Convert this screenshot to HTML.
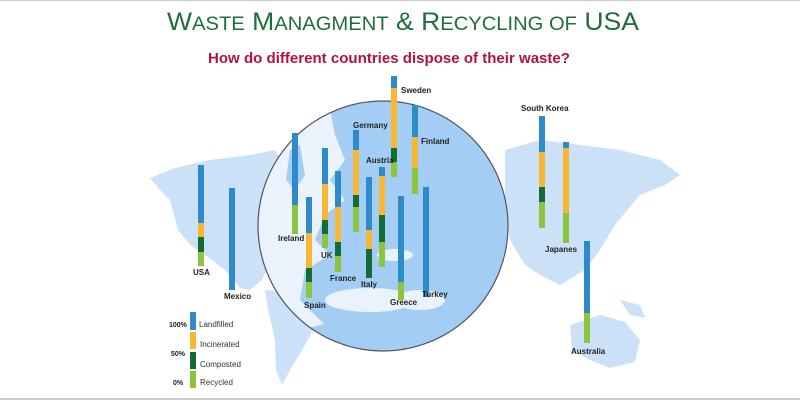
<!DOCTYPE html>
<html><head><meta charset="utf-8"><style>
html,body{margin:0;padding:0;background:#fff}
body{width:800px;height:400px;overflow:hidden;position:relative;font-family:"Liberation Sans",sans-serif}
svg{position:absolute;left:0;top:0}
</style></head><body>
<svg width="800" height="400" viewBox="0 0 800 400">
<rect x="0" y="0" width="800" height="400" fill="#fff"/>
<line x1="0" y1="0.5" x2="800" y2="0.5" stroke="#ccc"/>
<line x1="0" y1="399" x2="800" y2="399" stroke="#ccc" stroke-width="2"/>
<!-- outer map land -->
<g fill="#cbe1f8">
<path d="M150,178 L175,168 L210,160 L250,155 L275,150 L285,165 L280,190 L268,215 L262,240 L270,262 L262,280 L250,290 L240,288 L225,270 L205,255 L190,245 L178,230 L170,200 L160,190 Z"/>
<path d="M265,290 L290,292 L310,305 L318,320 L305,345 L290,370 L282,385 L276,370 L275,340 L268,310 Z"/>
<path d="M505,150 L540,140 L580,145 L620,150 L660,160 L680,175 L665,185 L640,195 L615,225 L600,250 L585,270 L560,285 L540,275 L525,265 L510,240 L505,200 Z"/>
<path d="M570,325 L600,315 L625,322 L640,340 L635,362 L610,368 L590,360 L572,350 Z"/>
<path d="M620,300 L640,305 L645,318 L630,315 Z"/>
</g>
<!-- circle -->
<circle cx="383" cy="226" r="125" fill="#eaf3fc"/>
<clipPath id="c"><circle cx="383" cy="226" r="125"/></clipPath>
<g clip-path="url(#c)" fill="#a3cdf5">
<path d="M330,110 L380,100 L430,105 L470,125 L505,170 L510,230 L505,300 L480,340 L440,352 L400,352 L360,345 L330,330 L300,300 L305,270 L330,255 L315,240 L325,215 L345,200 L330,180 L345,160 L335,135 Z"/>
<path d="M290,150 L300,145 L305,175 L295,190 L286,180 Z"/>
<path d="M300,330 L340,320 L380,330 L420,320 L460,325 L500,320 L500,360 L300,360 Z"/>
</g>
<g clip-path="url(#c)" fill="#eaf3fc">
<ellipse cx="370" cy="300" rx="45" ry="12"/>
<ellipse cx="420" cy="300" rx="25" ry="10"/>
<ellipse cx="395" cy="255" rx="18" ry="6"/>
</g>
<circle cx="383" cy="226" r="125" fill="none" stroke="#555" stroke-width="1.2"/>
<!-- bars -->
<g>
<!-- USA -->
<rect x="198" y="165" width="6" height="58" fill="#2e8acb"/><rect x="198" y="223" width="6" height="14" fill="#f7b733"/><rect x="198" y="237" width="6" height="15" fill="#146b38"/><rect x="198" y="252" width="6" height="14" fill="#8cc43f"/>
<!-- Mexico -->
<rect x="229" y="188" width="6" height="102" fill="#2e8acb"/>
<!-- Ireland -->
<rect x="292" y="133" width="6" height="72" fill="#2e8acb"/><rect x="292" y="205" width="6" height="29" fill="#8cc43f"/>
<!-- Spain -->
<rect x="306" y="197" width="6" height="36" fill="#2e8acb"/><rect x="306" y="233" width="6" height="35" fill="#f7b733"/><rect x="306" y="268" width="6" height="14" fill="#146b38"/><rect x="306" y="282" width="6" height="16" fill="#8cc43f"/>
<!-- UK -->
<rect x="322" y="148" width="6" height="36" fill="#2e8acb"/><rect x="322" y="184" width="6" height="36" fill="#f7b733"/><rect x="322" y="220" width="6" height="14" fill="#146b38"/><rect x="322" y="234" width="6" height="14" fill="#8cc43f"/>
<!-- France -->
<rect x="335" y="171" width="6" height="36" fill="#2e8acb"/><rect x="335" y="207" width="6" height="35" fill="#f7b733"/><rect x="335" y="242" width="6" height="14" fill="#146b38"/><rect x="335" y="256" width="6" height="16" fill="#8cc43f"/>
<!-- Germany -->
<rect x="353" y="130" width="6" height="20" fill="#2e8acb"/><rect x="353" y="150" width="6" height="45" fill="#f7b733"/><rect x="353" y="195" width="6" height="12" fill="#146b38"/><rect x="353" y="207" width="6" height="25" fill="#8cc43f"/>
<!-- Italy -->
<rect x="366" y="177" width="6" height="53" fill="#2e8acb"/><rect x="366" y="230" width="6" height="19" fill="#f7b733"/><rect x="366" y="249" width="6" height="29" fill="#146b38"/>
<!-- Austria -->
<rect x="379" y="167" width="6" height="9" fill="#2e8acb"/><rect x="379" y="176" width="6" height="39" fill="#f7b733"/><rect x="379" y="215" width="6" height="27" fill="#146b38"/><rect x="379" y="242" width="6" height="25" fill="#8cc43f"/>
<!-- Sweden -->
<rect x="391" y="76" width="6" height="12" fill="#2e8acb"/><rect x="391" y="88" width="6" height="60" fill="#f7b733"/><rect x="391" y="148" width="6" height="14" fill="#146b38"/><rect x="391" y="162" width="6" height="15" fill="#8cc43f"/>
<!-- Finland -->
<rect x="412" y="105" width="6" height="32" fill="#2e8acb"/><rect x="412" y="137" width="6" height="31" fill="#f7b733"/><rect x="412" y="168" width="6" height="26" fill="#8cc43f"/>
<!-- Greece -->
<rect x="398" y="196" width="6" height="86" fill="#2e8acb"/><rect x="398" y="282" width="6" height="18" fill="#8cc43f"/>
<!-- Turkey -->
<rect x="423" y="187" width="6" height="110" fill="#2e8acb"/>
<!-- South Korea -->
<rect x="539" y="116" width="6" height="36" fill="#2e8acb"/><rect x="539" y="152" width="6" height="35" fill="#f7b733"/><rect x="539" y="187" width="6" height="15" fill="#146b38"/><rect x="539" y="202" width="6" height="26" fill="#8cc43f"/>
<!-- Japan -->
<rect x="563" y="142" width="6" height="6" fill="#2e8acb"/><rect x="563" y="148" width="6" height="65" fill="#f7b733"/><rect x="563" y="213" width="6" height="30" fill="#8cc43f"/>
<!-- Australia -->
<rect x="584" y="241" width="6" height="72" fill="#2e8acb"/><rect x="584" y="313" width="6" height="30" fill="#8cc43f"/>
<!-- legend -->
<rect x="190" y="312" width="6" height="18" fill="#2e8acb"/><rect x="190" y="332" width="6" height="17" fill="#f7b733"/><rect x="190" y="352" width="6" height="17" fill="#146b38"/><rect x="190" y="371" width="6" height="17" fill="#8cc43f"/>
</g>
<g font-family="Liberation Sans, sans-serif" font-size="8" font-weight="bold" fill="#222">
<text x="193" y="275">USA</text>
<text x="224" y="299">Mexico</text>
<text x="278" y="241">Ireland</text>
<text x="304" y="308">Spain</text>
<text x="321" y="258">UK</text>
<text x="330" y="281">France</text>
<text x="361" y="287">Italy</text>
<text x="353" y="128">Germany</text>
<text x="366" y="163">Austria</text>
<text x="401" y="93">Sweden</text>
<text x="421" y="144">Finland</text>
<text x="390" y="305">Greece</text>
<text x="422" y="297">Turkey</text>
<text x="521" y="111">South Korea</text>
<text x="545" y="252">Japanes</text>
<text x="571" y="354">Australia</text>
<text x="169" y="327" font-size="7">100%</text>
<text x="171" y="356" font-size="7">50%</text>
<text x="173" y="385" font-size="7">0%</text>
</g>
<g font-family="Liberation Sans, sans-serif" font-size="8" fill="#333">
<text x="199" y="327">Landfilled</text>
<text x="200" y="347">Incinerated</text>
<text x="200" y="367">Composted</text>
<text x="200" y="385">Recycled</text>
</g>
<text x="403" y="30" text-anchor="middle" font-family="Liberation Sans, sans-serif" font-size="25" fill="#1f6e3a" textLength="472" lengthAdjust="spacingAndGlyphs">W<tspan font-size="19">ASTE</tspan> M<tspan font-size="19">ANAGMENT</tspan> &amp; R<tspan font-size="19">ECYCLING OF</tspan> USA</text>
<text x="389" y="63" text-anchor="middle" font-family="Liberation Sans, sans-serif" font-size="15" font-weight="bold" fill="#b5123a" textLength="362" lengthAdjust="spacingAndGlyphs">How do different countries dispose of their waste?</text>
</svg>
</body></html>
